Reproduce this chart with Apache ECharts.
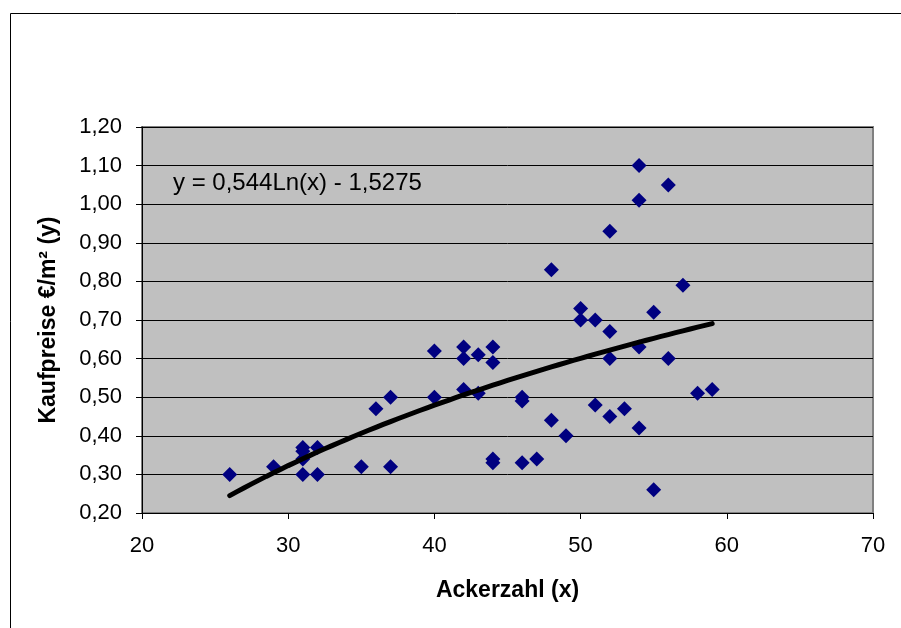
<!DOCTYPE html>
<html>
<head>
<meta charset="utf-8">
<script src="https://cdn.jsdelivr.net/npm/echarts@6/dist/echarts.min.js"></script>
<style>
html,body{margin:0;padding:0;background:#fff;}
#c{width:901px;height:628px;}
</style>
</head>
<body>
<div id="c"></div>
<script>
// Data
var ackerzahl = [26,29,31,31,31,31,32,32,35,36,37,37,40,40,42,42,42,43,43,44,44,44,44,46,46,46,47,48,48,49,50,50,51,51,52,52,52,52,53,54,54,54,54,55,55,56,56,57,58,59];
var kaufpreise = [0.30,0.32,0.37,0.36,0.34,0.30,0.37,0.30,0.32,0.47,0.50,0.32,0.62,0.50,0.63,0.60,0.52,0.61,0.51,0.63,0.59,0.34,0.33,0.50,0.49,0.33,0.34,0.83,0.44,0.40,0.73,0.70,0.70,0.48,0.93,0.67,0.60,0.45,0.47,1.10,1.01,0.63,0.42,0.72,0.26,1.05,0.60,0.79,0.51,0.52];
// Trendline as stated in the chart: y = 0,544Ln(x) - 1,5275
var trendSlope = 0.544;
var trendIntercept = -1.5275;
var trendFrom = 26;
var trendTo = 59;
var equationText = 'y = 0,544Ln(x) - 1,5275';
var xTitle = 'Ackerzahl (x)';
var yTitle = 'Kaufpreise €/m² (y)';

var points = ackerzahl.map(function(x, i){ return [x, kaufpreise[i]]; });
var trend = [];
for (var x = trendFrom; x <= trendTo; x += 0.5) {
  trend.push([x, trendSlope * Math.log(x) + trendIntercept]);
}

var FONT = '"Liberation Sans", Arial, sans-serif';
var chart = echarts.init(document.getElementById('c'), null, {renderer:'canvas'});
chart.setOption({
  animation:false,
  backgroundColor:'#ffffff',
  grid:{left:142, right:28, top:127, bottom:115, show:true, backgroundColor:'#C0C0C0', borderColor:'#808080', borderWidth:2},
  xAxis:{
    type:'value', min:20, max:70, interval:10,
    name:xTitle, nameLocation:'middle', nameGap:66,
    nameTextStyle:{fontFamily:FONT, fontSize:23, fontWeight:'bold', color:'#000'},
    axisLine:{show:true, onZero:false, lineStyle:{color:'#000', width:1}},
    axisTick:{show:true, inside:false, length:6, lineStyle:{color:'#000'}},
    axisLabel:{fontFamily:FONT, fontSize:22, color:'#000', margin:22},
    splitLine:{show:false}
  },
  yAxis:{
    type:'value', min:0.2, max:1.2, interval:0.1,
    name:yTitle, nameLocation:'middle', nameGap:82,
    nameTextStyle:{fontFamily:FONT, fontSize:23, fontWeight:'bold', color:'#000'},
    axisLine:{show:true, onZero:false, lineStyle:{color:'#000', width:1}},
    axisTick:{show:true, inside:false, length:6, lineStyle:{color:'#000'}},
    axisLabel:{fontFamily:FONT, fontSize:22, color:'#000', margin:20,
      formatter:function(v){ return v.toFixed(2).replace('.', ','); }},
    splitLine:{show:true, lineStyle:{color:'#000', width:1}}
  },
  series:[
    {type:'scatter', data:points, symbol:'diamond', symbolSize:15,
     itemStyle:{color:'#000080', opacity:1}, z:3},
    {type:'line', data:trend, showSymbol:false, symbol:'none', smooth:false,
     lineStyle:{color:'#000', width:5, cap:'round'}, z:4}
  ],
  graphic:[
    {type:'rect', left:8, top:11, shape:{x:0,y:0,width:1000,height:1000}, style:{fill:'none', stroke:'#000', lineWidth:1}, z:-1, silent:true},
    {type:'text', left:173, top:171, style:{text:equationText, font:'24px "Liberation Sans", Arial, sans-serif', fill:'#000'}, z:10}
  ]
});
</script>
</body>
</html>
